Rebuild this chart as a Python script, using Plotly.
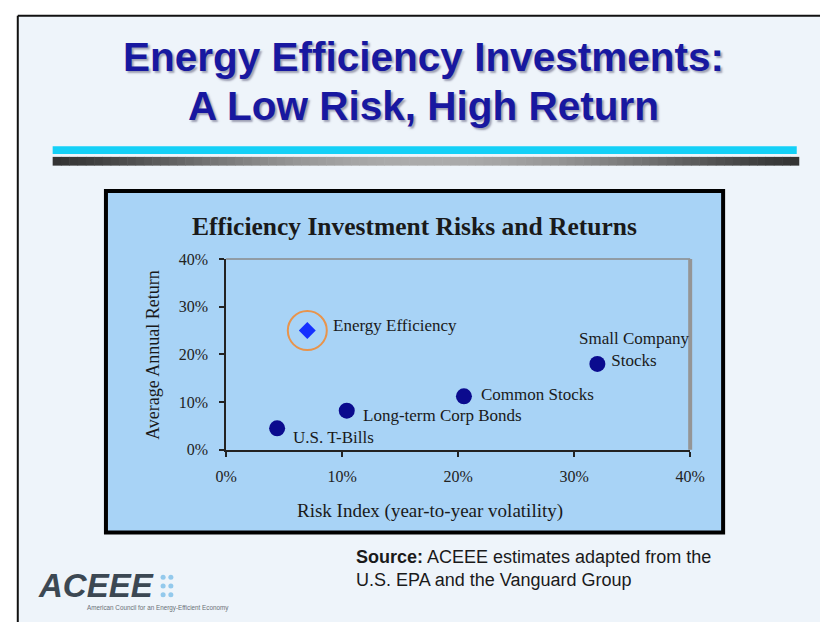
import math
import plotly.graph_objects as go

# ---------------- data ----------------
asset_labels = ["U.S. T-Bills", "Long-term Corp Bonds", "Common Stocks", "Small Company<br>Stocks"]
asset_risk = [4.4, 10.4, 20.5, 32.0]      # Risk Index (%)
asset_return = [4.5, 8.2, 11.2, 18.0]     # Average Annual Return (%)

ee_label = "Energy Efficiency"
ee_risk = [7.0]
ee_return = [25.0]

tick_vals = [0, 10, 20, 30, 40]
tick_text = ["0%", "10%", "20%", "30%", "40%"]

slide_title = ["Energy Efficiency Investments:", "A Low Risk, High Return"]
chart_title = "Efficiency Investment Risks and Returns"
x_title = "Risk Index (year-to-year volatility)"
y_title = "Average Annual Return"
source_text = "<b>Source:</b> ACEEE estimates adapted from the<br>U.S. EPA and the Vanguard Group"

# ---------------- layout helpers ----------------
W, H = 835, 631
def px(x):
    return x / W
def py(y):
    return 1 - y / H

SERIF = "Liberation Serif"
SANS = "Liberation Sans"

fig = go.Figure()

# data markers
fig.add_trace(go.Scatter(
    x=asset_risk, y=asset_return, mode="markers",
    marker=dict(symbol="circle", size=16, color="#0b0b8e"),
    hoverinfo="skip", showlegend=False))
fig.add_trace(go.Scatter(
    x=ee_risk, y=ee_return, mode="markers",
    marker=dict(symbol="circle-open", size=39, color="#e8944c", line=dict(width=2)),
    hoverinfo="skip", showlegend=False))
fig.add_trace(go.Scatter(
    x=ee_risk, y=ee_return, mode="markers",
    marker=dict(symbol="diamond", size=13, color="#1530ff"),
    hoverinfo="skip", showlegend=False))

annotations = []
# point labels (offsets are style only)
label_offsets = [(14, -9, "left"), (14, -5, "left"), (15, 2, "left"), (37, 14.5, "center")]
for lab, xv, yv, (dx, dy, anc) in zip(asset_labels, asset_risk, asset_return, label_offsets):
    annotations.append(dict(x=xv, y=yv, xref="x", yref="y", text=lab, showarrow=False,
                            xanchor=anc, yanchor="middle", xshift=dx, yshift=dy, align="center",
                            font=dict(family=SERIF, size=17, color="#1a1a1a")))
annotations.append(dict(x=ee_risk[0], y=ee_return[0], xref="x", yref="y", text=ee_label,
                        showarrow=False, xanchor="left", yanchor="middle", xshift=24, yshift=5,
                        font=dict(family=SERIF, size=17, color="#1a1a1a")))

# slide title
for txt, yc in zip(slide_title, [50, 101]):
    annotations.append(dict(x=px(426), y=py(yc), xref="paper", yref="paper", text="<b>%s</b>" % txt,
                            showarrow=False, xanchor="center", yanchor="middle",
                            font=dict(family=SANS, size=40.5, color="#1818a0",
                                      shadow="2px 2px 2px rgba(90,90,120,0.55)")))
# chart title
annotations.append(dict(x=px(416), y=py(225), xref="paper", yref="paper", text="<b>%s</b>" % chart_title,
                        showarrow=False, xanchor="center", yanchor="middle",
                        font=dict(family=SERIF, size=25.5, color="#1a1a1a")))
# axis titles
annotations.append(dict(x=px(432), y=py(517), xref="paper", yref="paper", text=x_title,
                        showarrow=False, xanchor="center", yanchor="middle",
                        font=dict(family=SERIF, size=19, color="#1a1a1a")))
annotations.append(dict(x=px(147), y=py(356), xref="paper", yref="paper", text=y_title,
                        showarrow=False, xanchor="center", yanchor="middle", textangle=-90,
                        font=dict(family=SERIF, size=18, color="#1a1a1a")))
# source
annotations.append(dict(x=px(354), y=py(576.5), xref="paper", yref="paper", text=source_text,
                        showarrow=False, xanchor="left", yanchor="middle", align="left",
                        font=dict(family=SANS, size=18, color="#1a1a1a")))
# logo
annotations.append(dict(x=px(88), y=py(593), xref="paper", yref="paper", text="<b><i>ACEEE</i></b>",
                        showarrow=False, xanchor="center", yanchor="middle",
                        font=dict(family=SANS, size=33, color="#3c4853")))
annotations.append(dict(x=px(152), y=py(617), xref="paper", yref="paper",
                        text="American Council for an Energy-Efficient Economy",
                        showarrow=False, xanchor="center", yanchor="middle",
                        font=dict(family="Liberation Sans Narrow, " + SANS, size=6.3, color="#6a7078")))

shapes = []
# slide panel (kept inside the page)
shapes.append(dict(type="rect", xref="paper", yref="paper", x0=px(7), x1=1, y0=py(8), y1=0,
                   fillcolor="#eef4fa", line=dict(width=0), layer="below"))
shapes.append(dict(type="line", xref="paper", yref="paper", x0=px(7), x1=px(7), y0=py(8), y1=0,
                   line=dict(color="#111111", width=2), layer="below"))
shapes.append(dict(type="line", xref="paper", yref="paper", x0=px(7), x1=1, y0=py(8), y1=py(8),
                   line=dict(color="#111111", width=2), layer="below"))
# cyan rule
shapes.append(dict(type="rect", xref="paper", yref="paper", x0=px(43), x1=px(811), y0=py(142), y1=py(150),
                   fillcolor="#14d0f7", line=dict(width=0), layer="below"))
# gray gradient rule (decoration)
n_seg = 90
for i in range(n_seg):
    t = (i + 0.5) / n_seg
    v = int(52 + 120 * math.sin(math.pi * t) ** 1.3)
    x0 = 43 + (813 - 43) * i / n_seg
    x1 = 43 + (813 - 43) * (i + 1) / n_seg + 0.6
    shapes.append(dict(type="rect", xref="paper", yref="paper", x0=px(x0), x1=px(x1), y0=py(153), y1=py(162),
                       fillcolor="rgb(%d,%d,%d)" % (v, v, v), line=dict(width=0), layer="below"))
# chart box
shapes.append(dict(type="rect", xref="paper", yref="paper", x0=px(98), x1=px(735), y0=py(188), y1=py(539),
                   fillcolor="#a8d3f6", line=dict(color="#000000", width=4), layer="below"))
# plot frame (gray top + right shadow)
shapes.append(dict(type="line", xref="x domain", yref="y domain", x0=0, x1=1, y0=1, y1=1,
                   line=dict(color="#8a8a8a", width=1.5), layer="above"))
shapes.append(dict(type="line", xref="x domain", yref="y domain", x0=1, x1=1, y0=0, y1=1,
                   line=dict(color="#959595", width=4), layer="above"))
# logo dots
for cx in (157, 165):
    for cy in (585, 594, 603):
        shapes.append(dict(type="circle", xref="paper", yref="paper",
                           x0=px(cx - 2.6), x1=px(cx + 2.6), y0=py(cy - 2.6), y1=py(cy + 2.6),
                           fillcolor="#93c9ec", line=dict(width=0), layer="above"))

axis_common = dict(range=[0, 40], tickmode="array", tickvals=tick_vals, ticktext=tick_text,
                   showgrid=False, zeroline=False, showline=True, linecolor="#222222", linewidth=1.5,
                   ticks="outside", ticklen=5, tickcolor="#222222", tickwidth=1.5,
                   tickfont=dict(family=SERIF, size=16, color="#222222"), fixedrange=True)

fig.update_layout(
    width=W, height=H, autosize=False,
    margin=dict(l=0, r=0, t=0, b=0),
    paper_bgcolor="#ffffff", plot_bgcolor="#ffffff",
    xaxis=dict(domain=[px(222), px(701)], ticklabelstandoff=6, **axis_common),
    yaxis=dict(domain=[py(454), py(258)], ticklabelstandoff=8, **axis_common),
    annotations=annotations, shapes=shapes, showlegend=False,
)

fig.write_html("out.html", config={"displayModeBar": False})

# pin the figure to the top-left corner of the window
css = ("<style>html,body{margin:0!important;padding:0!important;overflow:hidden!important;"
       "width:835px;height:631px;}"
       ".plotly-graph-div{position:fixed!important;top:0!important;left:0!important;}</style>")
with open("out.html", "r", encoding="utf-8") as f:
    html = f.read()
if "<head>" in html:
    html = html.replace("<head>", "<head>" + css, 1)
else:
    html = css + html
with open("out.html", "w", encoding="utf-8") as f:
    f.write(html)
